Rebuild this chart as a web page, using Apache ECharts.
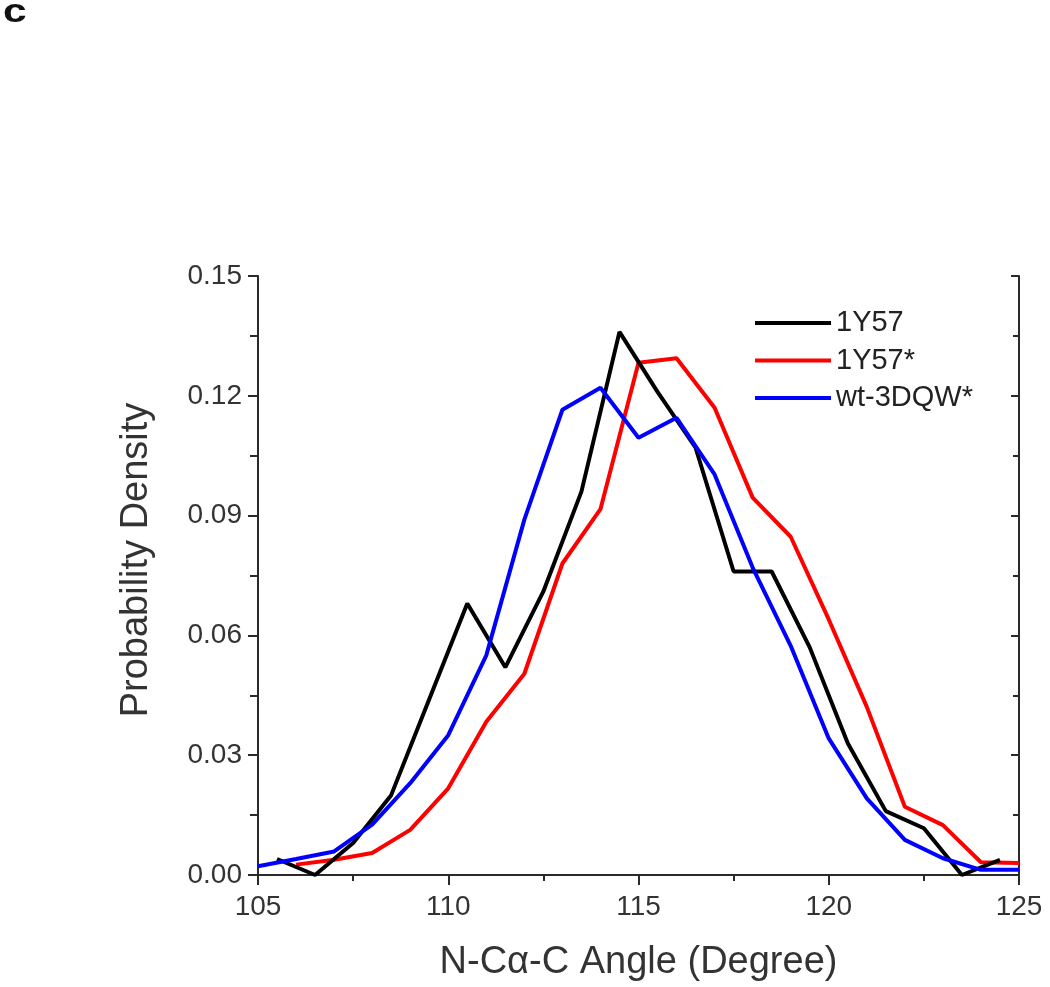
<!DOCTYPE html>
<html>
<head>
<meta charset="utf-8">
<script src="https://cdn.jsdelivr.net/npm/echarts@6/dist/echarts.min.js"></script>
<style>
  html, body { margin: 0; padding: 0; background: #ffffff; }
  #chart { width: 1050px; height: 987px; }
</style>
</head>
<body>
<div id="chart"></div>
<script>
// ---- data ----
const seriesNames = ['1Y57', '1Y57*', 'wt-3DQW*'];

const angles1Y57 = [105.5, 106.5, 107.5, 108.5, 109.5, 110.5, 111.5, 112.5, 113.5, 114.5,
                    115.5, 116.5, 117.5, 118.5, 119.5, 120.5, 121.5, 122.5, 123.5, 124.5];
const density1Y57 = [0.004, 0.000, 0.008, 0.020, 0.044, 0.068, 0.052, 0.071, 0.096, 0.136,
                     0.121, 0.107, 0.076, 0.076, 0.057, 0.033, 0.016, 0.0117, 0.000, 0.0038];

const angles1Y57s = [106, 107, 108, 109, 110, 111, 112, 113, 114, 115,
                     116, 117, 118, 119, 120, 121, 122, 123, 124, 125];
const density1Y57s = [0.0026, 0.0038, 0.0055, 0.0113, 0.0217, 0.0384, 0.0504, 0.078, 0.0916, 0.1283,
                      0.1294, 0.117, 0.0945, 0.0847, 0.064, 0.0421, 0.0171, 0.0125, 0.0032, 0.003];

const anglesWt = [105, 106, 107, 108, 109, 110, 111, 112, 113, 114, 115,
                  116, 117, 118, 119, 120, 121, 122, 123, 124, 125];
const densityWt = [0.0022, 0.004, 0.0059, 0.0126, 0.023, 0.035, 0.055, 0.089, 0.1165, 0.122, 0.1095,
                   0.1145, 0.1003, 0.077, 0.0574, 0.0342, 0.0192, 0.0088, 0.0042, 0.0013, 0.0013];

const xMin = 105, xMax = 125, xStep = 5;
const yMin = 0, yMax = 0.15, yStep = 0.03;

const xTitle = 'N-C\u03b1-C Angle (Degree)';
const yTitle = 'Probability Density';
const panelLabel = 'c';

const colors = ['#000000', '#ff0000', '#0000ff'];

// ---- chart ----
const pairs = (xs, ys) => xs.map((x, i) => [x, ys[i]]);
const FONT = '"Liberation Sans", Arial, sans-serif';
const axisColor = '#2a2a2a';

const chart = echarts.init(document.getElementById('chart'), null, { renderer: 'canvas' });

const baseAxisLine = { show: true, lineStyle: { color: axisColor, width: 2 } };

chart.setOption({
  animation: false,
  backgroundColor: '#ffffff',
  graphic: [{
    type: 'text', x: 3, y: -4, scaleX: 1.25,
    style: { text: panelLabel, font: 'bold 34px ' + FONT, fill: '#111111' }
  }, {
    type: 'text', x: 137, y: 560, rotation: Math.PI / 2,
    style: { text: yTitle, font: '38px ' + FONT, fill: '#333333',
             align: 'center', verticalAlign: 'middle' }
  }],
  legend: {
    orient: 'vertical',
    left: 750, top: 303,
    icon: 'rect',
    itemWidth: 76, itemHeight: 4, itemGap: 7.5,
    data: seriesNames,
    textStyle: { fontFamily: FONT, fontSize: 29, color: '#222222', lineHeight: 30 }
  },
  grid: { left: 258, right: 31, top: 276, bottom: 110, containLabel: false },
  xAxis: [{
    type: 'value', min: xMin, max: xMax, interval: xStep, position: 'bottom',
    name: xTitle, nameLocation: 'middle', nameGap: 69,
    nameTextStyle: { fontFamily: FONT, fontSize: 38, color: '#333333' },
    axisLine: baseAxisLine,
    axisTick: { show: true, inside: false, length: 10, lineStyle: { color: axisColor, width: 2 } },
    minorTick: { show: true, splitNumber: 2, length: 6, lineStyle: { color: axisColor, width: 2 } },
    axisLabel: { fontFamily: FONT, fontSize: 28, color: '#333333', margin: 18 },
    splitLine: { show: false }
  }, {
    type: 'value', min: xMin, max: xMax, interval: xStep, position: 'top',
    axisLine: baseAxisLine,
    axisTick: { show: true, inside: true, length: 10, lineStyle: { color: axisColor, width: 2 } },
    minorTick: { show: true, splitNumber: 2, length: 6, lineStyle: { color: axisColor, width: 2 } },
    axisLabel: { show: false },
    splitLine: { show: false }
  }],
  yAxis: [{
    type: 'value', min: yMin, max: yMax, interval: yStep, position: 'left',
    axisLine: baseAxisLine,
    axisTick: { show: true, inside: false, length: 10, lineStyle: { color: axisColor, width: 2 } },
    minorTick: { show: true, splitNumber: 2, length: 8, lineStyle: { color: axisColor, width: 2 } },
    axisLabel: { fontFamily: FONT, fontSize: 28, color: '#333333', margin: 16,
                 formatter: v => v.toFixed(2) },
    splitLine: { show: false }
  }, {
    type: 'value', min: yMin, max: yMax, interval: yStep, position: 'right',
    axisLine: baseAxisLine,
    axisTick: { show: true, inside: true, length: 8, lineStyle: { color: axisColor, width: 2 } },
    minorTick: { show: true, splitNumber: 2, length: 6, lineStyle: { color: axisColor, width: 2 } },
    axisLabel: { show: false },
    splitLine: { show: false }
  }],
  series: [
    { name: seriesNames[0], type: 'line', xAxisIndex: 0, yAxisIndex: 0, symbol: 'none',
      data: pairs(angles1Y57, density1Y57), z: 3,
      lineStyle: { color: colors[0], width: 4 }, itemStyle: { color: colors[0] } },
    { name: seriesNames[1], type: 'line', xAxisIndex: 0, yAxisIndex: 0, symbol: 'none',
      data: pairs(angles1Y57s, density1Y57s), z: 2,
      lineStyle: { color: colors[1], width: 4 }, itemStyle: { color: colors[1] } },
    { name: seriesNames[2], type: 'line', xAxisIndex: 0, yAxisIndex: 0, symbol: 'none',
      data: pairs(anglesWt, densityWt), z: 4,
      lineStyle: { color: colors[2], width: 4 }, itemStyle: { color: colors[2] } }
  ]
});
</script>
</body>
</html>
